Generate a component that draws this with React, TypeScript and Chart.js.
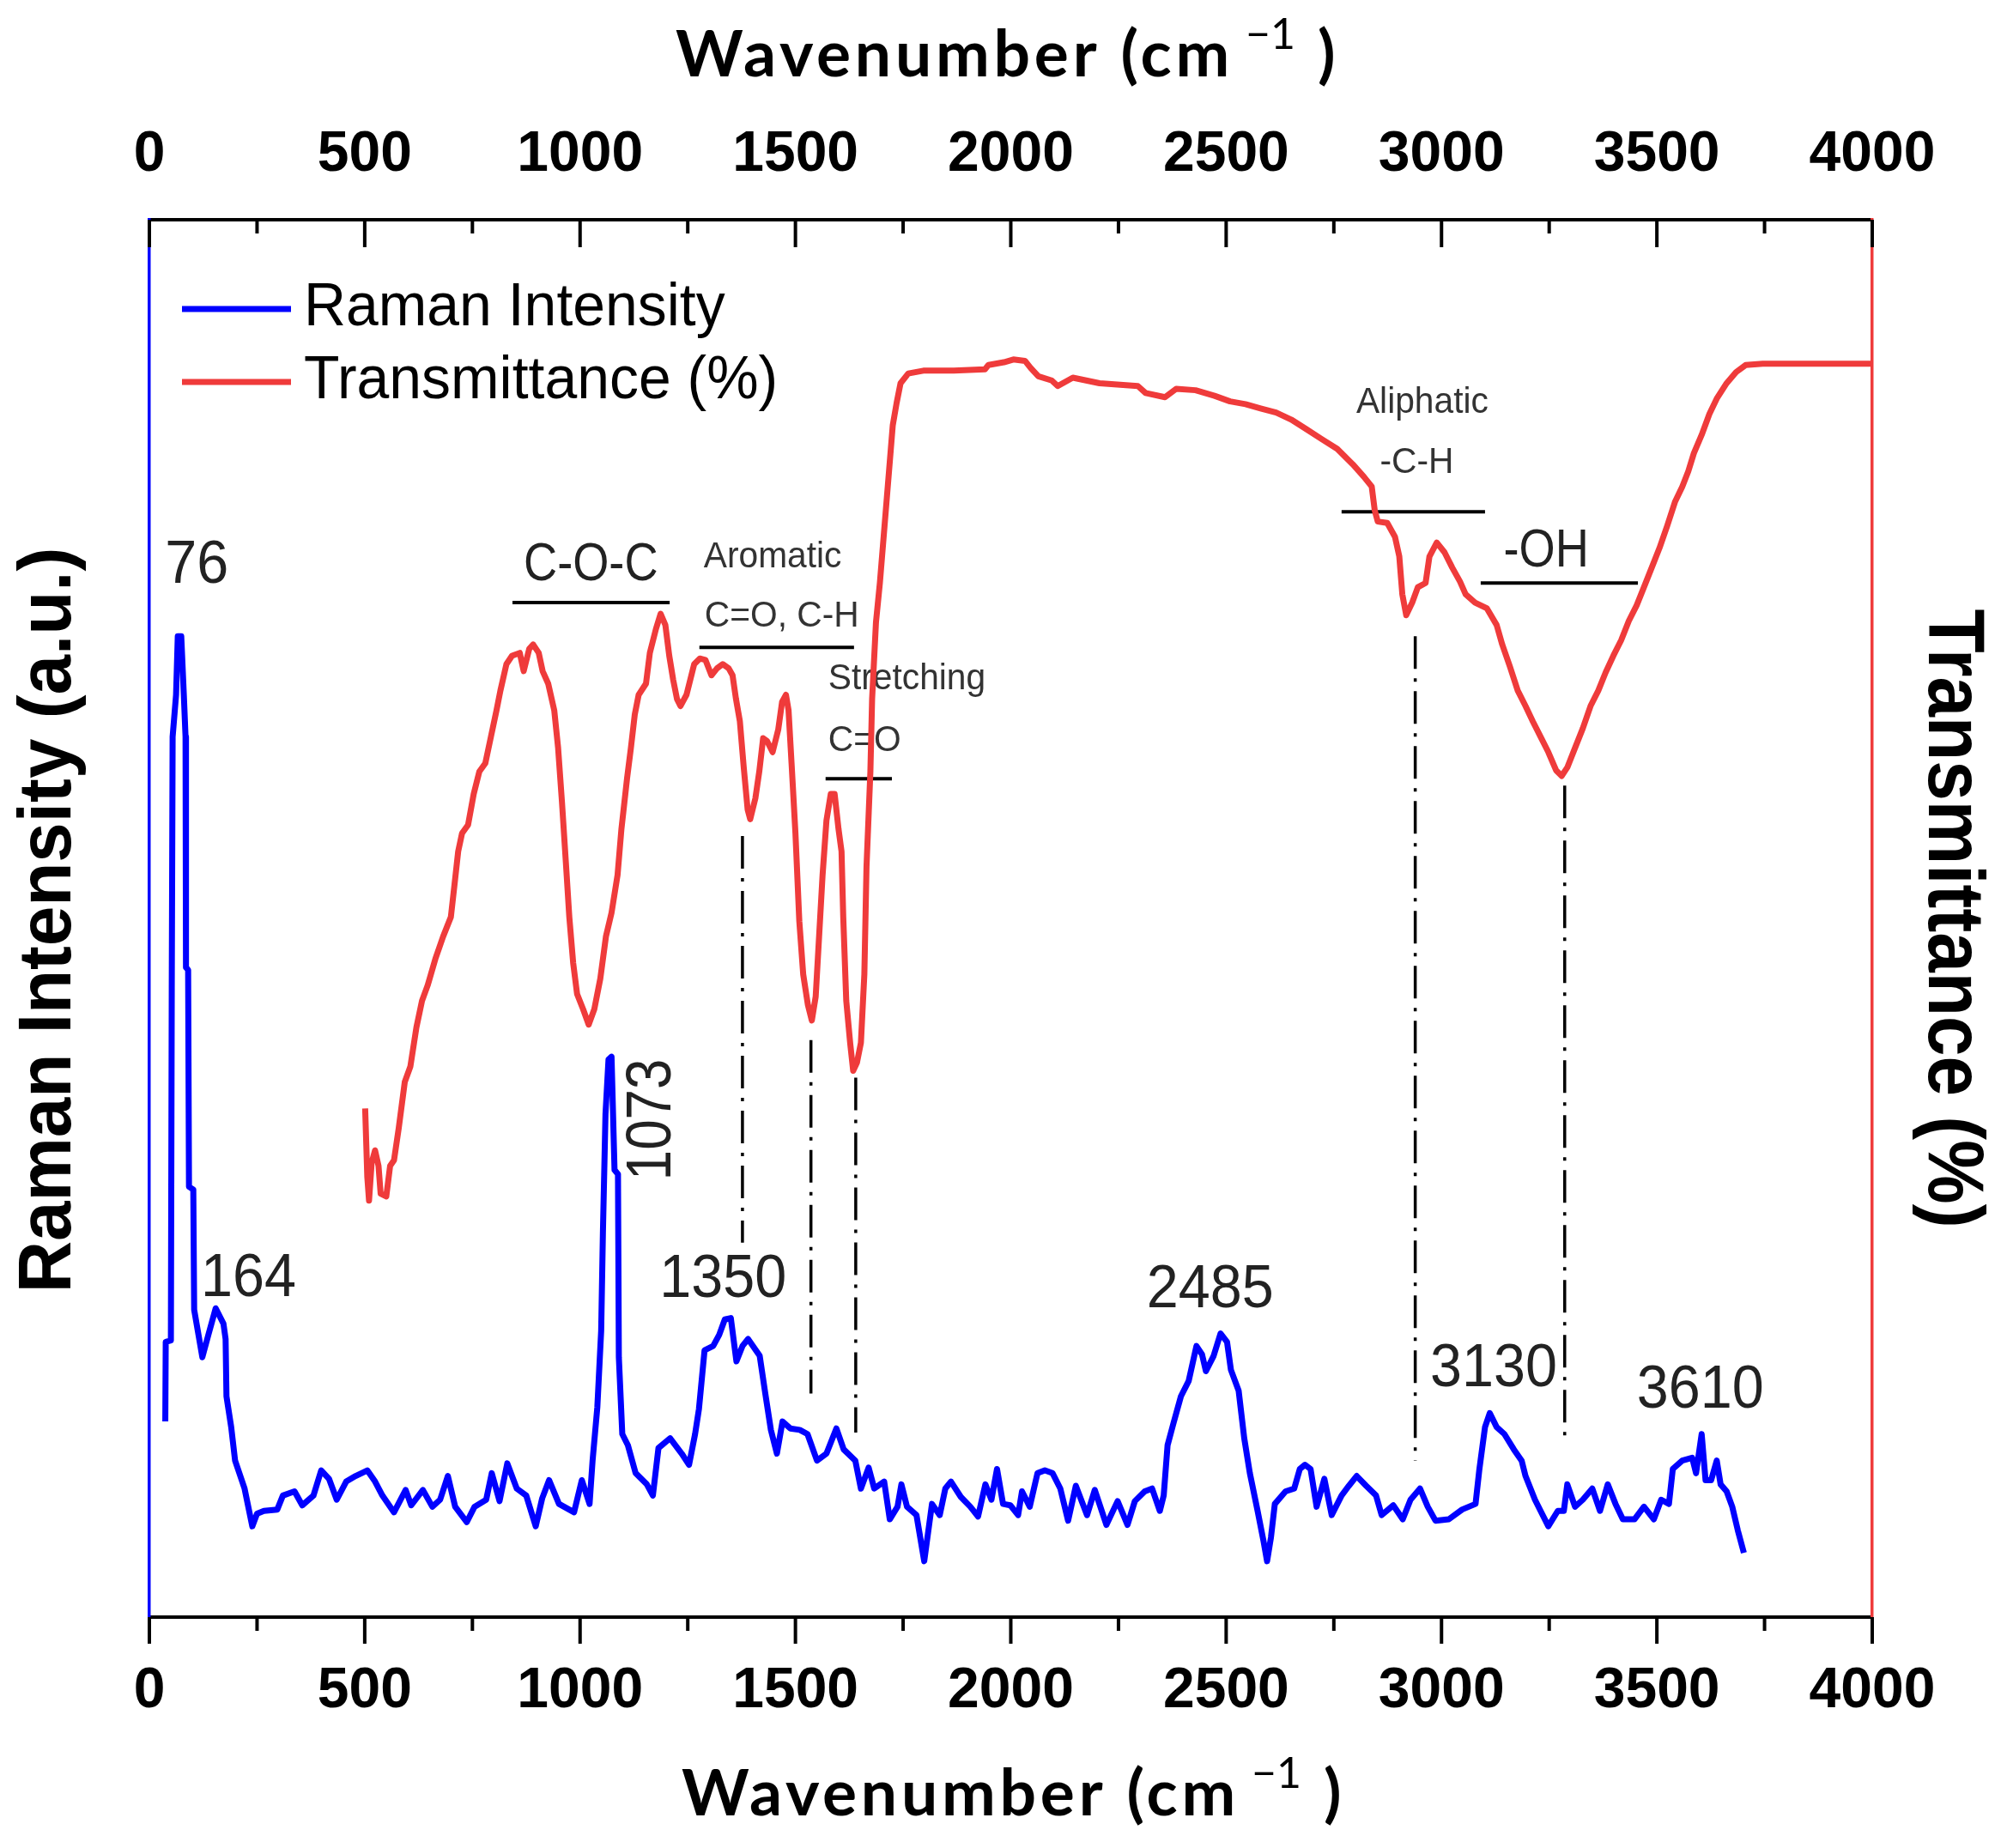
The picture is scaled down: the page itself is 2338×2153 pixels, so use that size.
import { useEffect, useRef } from "react"
import { Chart, registerables } from "chart.js"

Chart.register(...registerables)

// Raman spectrum (blue)
const ramanWavenumber = [
  37, 38, 50, 52, 54, 62, 66, 74, 80, 84, 85, 90, 92, 102, 104,
  123, 137, 154, 172, 177, 179, 190, 199, 221, 239, 250, 266, 297, 310, 337,
  355, 381, 399, 417, 435, 457, 479, 506, 524, 541, 568, 595, 608, 635, 657,
  675, 693, 710, 737, 755, 782, 795, 813, 831, 853, 875, 897, 912, 928, 951,
  986, 1004, 1022, 1029, 1040, 1049, 1053, 1059, 1066, 1073, 1080, 1088, 1090, 1098, 1111,
  1129, 1155, 1169, 1182, 1209, 1236, 1253, 1267, 1276, 1289, 1309, 1323, 1336, 1350, 1363,
  1377, 1390, 1417, 1430, 1443, 1457, 1470, 1488, 1510, 1528, 1550, 1572, 1595, 1612, 1639,
  1652, 1670, 1683, 1706, 1719, 1737, 1746, 1759, 1781, 1799, 1817, 1835, 1848, 1861, 1884,
  1906, 1924, 1941, 1955, 1968, 1982, 1999, 2017, 2026, 2044, 2062, 2079, 2097, 2115, 2133,
  2151, 2177, 2195, 2222, 2248, 2271, 2288, 2311, 2328, 2346, 2355, 2364, 2377, 2395, 2413,
  2431, 2444, 2453, 2471, 2487, 2502, 2511, 2529, 2542, 2555, 2573, 2587, 2595, 2604, 2613,
  2638, 2658, 2671, 2683, 2696, 2710, 2728, 2745, 2768, 2785, 2803, 2825, 2848, 2861, 2888,
  2910, 2928, 2950, 2968, 2986, 3017, 3048, 3079, 3088, 3101, 3112, 3128, 3146, 3168, 3186,
  3195, 3217, 3230, 3248, 3270, 3284, 3292, 3310, 3328, 3350, 3368, 3386, 3404, 3421, 3448,
  3470, 3493, 3510, 3528, 3537, 3559, 3582, 3591, 3604, 3613, 3626, 3639, 3648, 3662, 3675,
  3688, 3702,
]
const ramanIntensity = [
  14.0, 19.7, 19.8, 45.0, 63.0, 66.0, 70.2, 70.2, 66.0, 63.0, 46.5, 46.3, 30.8, 30.6, 22.0,
  18.6, 20.2, 22.1, 21.0, 19.9, 15.8, 13.6, 11.2, 9.2, 6.5, 7.4, 7.6, 7.7, 8.7, 9.0,
  8.0, 8.7, 10.5, 9.9, 8.4, 9.7, 10.1, 10.5, 9.7, 8.7, 7.5, 9.1, 8.0, 9.1, 7.9,
  8.4, 10.1, 7.9, 6.8, 7.9, 8.4, 10.3, 8.3, 11.0, 9.2, 8.7, 6.5, 8.5, 9.8, 8.1,
  7.5, 9.8, 8.1, 11.2, 15.0, 20.5, 27.5, 36.0, 39.9, 40.1, 32.0, 31.7, 18.6, 13.1, 12.3,
  10.3, 9.5, 8.7, 12.1, 12.8, 11.7, 10.9, 13.1, 14.9, 19.1, 19.4, 20.2, 21.3, 21.4, 18.3,
  19.4, 19.9, 18.7, 16.0, 13.4, 11.7, 14.0, 13.5, 13.4, 13.1, 11.2, 11.7, 13.5, 12.0, 11.2,
  9.2, 10.7, 9.2, 9.7, 7.0, 7.9, 9.5, 7.9, 7.3, 4.0, 8.1, 7.3, 9.2, 9.7, 8.6,
  7.9, 7.2, 9.5, 8.4, 10.6, 8.1, 8.0, 7.3, 9.0, 7.9, 10.3, 10.5, 10.3, 9.2, 6.9,
  9.4, 7.3, 9.1, 6.6, 8.3, 6.6, 8.3, 9.0, 9.2, 7.6, 8.7, 12.3, 13.8, 15.8, 16.9,
  19.4, 18.8, 17.6, 18.7, 20.3, 19.7, 17.7, 16.2, 12.8, 10.3, 7.6, 5.4, 4.0, 5.7, 8.1,
  9.0, 9.2, 10.6, 10.9, 10.6, 7.9, 9.9, 7.3, 8.7, 9.4, 10.1, 9.4, 8.7, 7.3, 8.0,
  7.0, 8.4, 9.2, 7.9, 6.9, 7.0, 7.7, 8.1, 10.6, 13.6, 14.6, 13.6, 13.1, 12.0, 11.2,
  10.1, 8.4, 7.6, 6.5, 7.6, 7.6, 9.5, 7.9, 8.4, 9.2, 7.6, 9.5, 8.1, 7.0, 7.0,
  7.9, 7.0, 8.4, 8.1, 10.6, 11.2, 11.4, 10.3, 13.1, 9.8, 9.8, 11.2, 9.5, 9.0, 7.9,
  6.2, 4.6,
]

// FTIR transmittance (red)
const ftirWavenumber = [
  501, 506, 510, 516, 524, 532, 537, 550, 559, 568, 579, 593, 606, 620, 633,
  646, 664, 682, 700, 708, 717, 726, 740, 753, 766, 780, 793, 806, 815, 829,
  842, 860, 869, 882, 891, 904, 913, 926, 940, 949, 958, 967, 975, 984, 993,
  1007, 1020, 1033, 1047, 1060, 1073, 1087, 1096, 1109, 1118, 1127, 1136, 1153, 1162, 1176,
  1187, 1198, 1207, 1216, 1225, 1233, 1247, 1256, 1265, 1278, 1291, 1305, 1318, 1331, 1345,
  1354, 1362, 1371, 1380, 1389, 1395, 1407, 1416, 1425, 1434, 1447, 1460, 1469, 1478, 1484,
  1491, 1500, 1509, 1518, 1529, 1538, 1547, 1554, 1563, 1572, 1582, 1591, 1600, 1607, 1611,
  1618, 1627, 1634, 1643, 1652, 1660, 1665, 1674, 1678, 1687, 1696, 1726, 1735, 1744, 1762,
  1797, 1868, 1940, 1948, 1984, 2006, 2033, 2046, 2064, 2095, 2109, 2144, 2206, 2295, 2313,
  2358, 2384, 2429, 2473, 2509, 2545, 2580, 2616, 2651, 2687, 2722, 2758, 2794, 2820, 2838,
  2845, 2852, 2874, 2892, 2902, 2909, 2918, 2932, 2945, 2963, 2972, 2989, 3007, 3025, 3043,
  3056, 3078, 3105, 3128, 3141, 3159, 3177, 3195, 3212, 3230, 3248, 3266, 3279, 3292, 3310,
  3328, 3346, 3364, 3381, 3399, 3417, 3435, 3453, 3470, 3488, 3506, 3524, 3542, 3559, 3573,
  3586, 3604, 3622, 3639, 3662, 3684, 3706, 3746, 3888, 4000,
]
const ftirTransmittance = [
  36.4, 31.5, 29.8, 32.5, 33.4, 32.3, 30.3, 30.1, 32.3, 32.7, 35.0, 38.3, 39.4, 42.2, 44.1,
  45.2, 47.1, 48.7, 50.1, 52.3, 54.8, 56.1, 56.7, 58.9, 60.5, 61.1, 63.0, 64.9, 66.3, 68.2,
  68.8, 69.0, 67.7, 69.3, 69.6, 69.0, 67.7, 66.8, 64.9, 62.2, 58.3, 54.0, 50.1, 46.8, 44.6,
  43.5, 42.4, 43.5, 45.7, 48.7, 50.4, 53.1, 56.4, 60.0, 62.2, 64.6, 66.0, 66.8, 69.0, 70.7,
  71.8, 71.0, 68.8, 67.1, 65.7, 65.2, 66.0, 67.1, 68.2, 68.6, 68.5, 67.4, 67.9, 68.2, 67.9,
  67.4, 65.7, 64.1, 60.8, 57.8, 57.1, 58.6, 60.5, 62.9, 62.7, 61.9, 63.5, 65.5, 66.0, 64.9,
  61.1, 56.1, 49.8, 46.0, 43.8, 42.7, 44.4, 48.2, 53.1, 57.0, 58.9, 58.9, 56.4, 54.8, 50.1,
  44.1, 41.1, 39.1, 39.7, 41.1, 46.0, 53.7, 60.5, 65.7, 71.2, 74.0, 85.3, 86.9, 88.3, 89.0,
  89.2, 89.2, 89.3, 89.6, 89.8, 90.0, 89.9, 89.4, 88.8, 88.5, 88.1, 88.7, 88.3, 88.1, 87.6,
  87.3, 87.9, 87.8, 87.4, 87.0, 86.8, 86.5, 86.2, 85.7, 85.0, 84.3, 83.6, 82.5, 81.6, 80.9,
  79.2, 78.4, 78.3, 77.3, 75.9, 73.2, 71.7, 72.6, 73.7, 74.0, 75.9, 76.9, 76.2, 75.1, 74.1,
  73.2, 72.6, 72.2, 71.0, 69.6, 68.0, 66.3, 65.2, 64.1, 63.0, 61.9, 60.6, 60.2, 60.8, 62.2,
  63.6, 65.2, 66.3, 67.6, 68.8, 69.9, 71.3, 72.4, 73.7, 75.1, 76.5, 78.1, 79.8, 80.9, 82.0,
  83.3, 84.6, 86.1, 87.2, 88.3, 89.1, 89.6, 89.7, 89.7, 89.7,
]

const xTickLabels = ["0", "500", "1000", "1500", "2000", "2500", "3000", "3500", "4000"]

// Raman peak labels (x = centre, y = baseline)
const peakLabels = ["76", "164", "1350", "2485", "3130", "3610"]
const peakLabelX = [110, 230, 1332, 2463, 3121, 3601]
const peakLabelY = [74.0, 23.0, 22.9, 22.2, 16.5, 15.0]
const sidePeakLabels = ["1073"]
const sidePeakX = [1209]
const sidePeakY = [35.6]

// FTIR band labels (x = left edge, y = baseline)
const groupLabels = ["C-O-C", "-OH"]
const groupLabelX = [869, 3144]
const groupLabelY = [74.2, 75.2]
const bandLabels = ["Aromatic", "C=O, C-H", "Stretching", "C=O", "Aliphatic", "-C-H"]
const bandLabelX = [1287, 1289, 1576, 1576, 2802, 2857]
const bandLabelY = [75.1, 70.9, 66.4, 62.0, 86.2, 81.9]

const bandLineStart = [843, 1277, 1570, 2768, 3091]
const bandLineEnd = [1208, 1636, 1724, 3101, 3456]
const bandLineY = [72.6, 69.4, 60.0, 79.1, 74.0]

// dash-dot guides from FTIR dips down to the Raman trace
const markerX = [1377, 1536, 1640, 2939, 3286]
const markerTop = [55.9, 41.3, 38.6, 70.2, 59.5]
const markerBottom = [26.8, 16.0, 13.2, 11.2, 12.5]

const ARIAL = "'Liberation Sans', Arial, sans-serif"
const LATO = "Lato, 'Open Sans', sans-serif"

function drawText(ctx: CanvasRenderingContext2D, str: string, x: number, y: number, font: string, color: string, align: CanvasTextAlign = "left", rotate = 0, squeeze = 1) {
  ctx.save()
  ctx.translate(x, y)
  if (rotate) ctx.rotate(rotate)
  if (squeeze !== 1) ctx.scale(squeeze, 1)
  ctx.font = font
  ctx.fillStyle = color
  ctx.textAlign = align
  ctx.textBaseline = "alphabetic"
  ctx.fillText(str, 0, 0)
  ctx.restore()
}

function drawWavenumberTitle(ctx: any, left: number, baseline: number) {
  ctx.save()
  ctx.fillStyle = "#000"
  ctx.textAlign = "left"
  ctx.textBaseline = "alphabetic"
  const main = "Wavenumber (cm"
  ctx.font = `bold 75px ${LATO}`
  const natural = ctx.measureText(main).width
  ctx.letterSpacing = `${(650 - natural) / main.length}px`
  ctx.fillText(main, left, baseline)
  ctx.letterSpacing = "0px"
  ctx.font = `50px ${LATO}`
  ctx.fillText("\u22121", left + 664, baseline - 32)
  ctx.font = `bold 75px ${LATO}`
  ctx.fillText(")", left + 748, baseline)
  ctx.restore()
}

const decorPlugin = {
  id: "spectraDecor",
  beforeDatasetsDraw(chart: any) {
    const { ctx, scales } = chart
    const x = scales.x
    const y = scales.y
    const y2 = scales.y2

    ctx.save()
    ctx.strokeStyle = "#000"
    ctx.lineWidth = 3.5
    ctx.setLineDash([38, 11, 4, 11])
    markerX.forEach((m, i) => {
      const px = x.getPixelForValue(m)
      ctx.beginPath()
      ctx.moveTo(px, y2.getPixelForValue(markerTop[i]))
      ctx.lineTo(px, y.getPixelForValue(markerBottom[i]))
      ctx.stroke()
    })
    ctx.setLineDash([])
    ctx.lineWidth = 4
    bandLineStart.forEach((s, i) => {
      const py = y2.getPixelForValue(bandLineY[i])
      ctx.beginPath()
      ctx.moveTo(x.getPixelForValue(s), py)
      ctx.lineTo(x.getPixelForValue(bandLineEnd[i]), py)
      ctx.stroke()
    })
    ctx.restore()

    peakLabels.forEach((t, i) => {
      drawText(ctx, t, x.getPixelForValue(peakLabelX[i]), y.getPixelForValue(peakLabelY[i]), `70px ${ARIAL}`, "#222", "center", 0, 0.95)
    })
    sidePeakLabels.forEach((t, i) => {
      drawText(ctx, t, x.getPixelForValue(sidePeakX[i]), y.getPixelForValue(sidePeakY[i]), `74px ${ARIAL}`, "#222", "center", -Math.PI / 2, 0.86)
    })
    groupLabels.forEach((t, i) => {
      drawText(ctx, t, x.getPixelForValue(groupLabelX[i]), y2.getPixelForValue(groupLabelY[i]), `63px ${ARIAL}`, "#222", "left", 0, 0.86)
    })
    bandLabels.forEach((t, i) => {
      drawText(ctx, t, x.getPixelForValue(bandLabelX[i]), y2.getPixelForValue(bandLabelY[i]), `42px ${ARIAL}`, "#333", "left", 0, 0.97)
    })
  },
  afterDraw(chart: any) {
    const { ctx, chartArea, scales } = chart
    const x = scales.x
    const { left, right, top, bottom } = chartArea

    // tick marks: top axis inward, bottom axis outward
    ctx.save()
    ctx.strokeStyle = "#000"
    ctx.lineWidth = 4
    x.ticks.forEach((t: any) => {
      const px = x.getPixelForValue(t.value)
      const major = t.value % 500 === 0
      ctx.beginPath()
      ctx.moveTo(px, top)
      ctx.lineTo(px, top + (major ? 32 : 16))
      ctx.moveTo(px, bottom)
      ctx.lineTo(px, bottom + (major ? 31 : 16))
      ctx.stroke()
    })
    ctx.restore()

    xTickLabels.forEach((lab) => {
      const px = x.getPixelForValue(Number(lab))
      drawText(ctx, lab, px, top - 57, `bold 66px ${ARIAL}`, "#000", "center")
      drawText(ctx, lab, px, bottom + 105, `bold 66px ${ARIAL}`, "#000", "center")
    })

    drawWavenumberTitle(ctx, left + 613, top - 167)
    drawWavenumberTitle(ctx, left + 620, bottom + 231)

    drawText(ctx, "Raman Intensity (a.u.)", left - 92, (top + bottom) / 2 + 2, `bold 88px ${ARIAL}`, "#000", "center", -Math.PI / 2, 0.95)
    drawText(ctx, "Transmittance (%)", right + 66, (top + bottom) / 2, `bold 92px ${ARIAL}`, "#000", "center", Math.PI / 2, 0.91)

    // legend
    chart.data.datasets.forEach((ds: any, i: number) => {
      const ly = top + 104 + i * 85
      ctx.save()
      ctx.strokeStyle = ds.borderColor
      ctx.lineWidth = 7
      ctx.beginPath()
      ctx.moveTo(left + 38, ly)
      ctx.lineTo(left + 165, ly)
      ctx.stroke()
      ctx.restore()
      drawText(ctx, ds.label, left + 180, ly + 19, `70px ${ARIAL}`, "#000", "left", 0, 0.97)
    })
  },
}

export default function App() {
  const chartRef = useRef<HTMLCanvasElement>(null)
  const chartInstance = useRef<Chart | null>(null)

  useEffect(() => {
    if (!chartRef.current) return
    if (chartInstance.current) chartInstance.current.destroy()

    const hiddenY = (width: number, color: string, position: string) => ({
      type: "linear",
      position,
      min: 0,
      max: 100,
      ticks: { display: false },
      grid: { display: false },
      border: { display: true, color, width: 3.5 },
      afterFit: (s: any) => {
        s.width = width
      },
    })

    chartInstance.current = new Chart(chartRef.current, {
      type: "line",
      data: {
        datasets: [
          {
            label: "Raman Intensity",
            data: ramanWavenumber.map((w, i) => ({ x: w, y: ramanIntensity[i] })),
            borderColor: "#0000ff",
            borderWidth: 7,
            xAxisID: "x",
            yAxisID: "y",
          },
          {
            label: "Transmittance (%)",
            data: ftirWavenumber.map((w, i) => ({ x: w, y: ftirTransmittance[i] })),
            borderColor: "#ef3b3b",
            borderWidth: 7,
            xAxisID: "x",
            yAxisID: "y2",
          },
        ],
      },
      options: {
        animation: false,
        responsive: true,
        maintainAspectRatio: false,
        layout: { padding: 0 },
        elements: {
          point: { radius: 0 },
          line: { tension: 0, borderJoinStyle: "round", borderCapStyle: "butt" },
        },
        plugins: {
          legend: { display: false },
          tooltip: { enabled: false },
          title: { display: false },
        },
        scales: {
          x: {
            type: "linear",
            position: "bottom",
            min: 0,
            max: 4000,
            ticks: { display: false, stepSize: 250 },
            grid: { display: false },
            border: { display: true, color: "#000", width: 4 },
            afterFit: (s: any) => {
              s.height = 269
            },
          },
          x2: {
            type: "linear",
            position: "top",
            min: 0,
            max: 4000,
            ticks: { display: false, stepSize: 250 },
            grid: { display: false },
            border: { display: true, color: "#000", width: 4 },
            afterFit: (s: any) => {
              s.height = 256
            },
          },
          y: hiddenY(174, "#0000ff", "left"),
          y2: hiddenY(157, "#ef3b3b", "right"),
        } as any,
      },
      plugins: [decorPlugin],
    } as any)

    return () => {
      if (chartInstance.current) {
        chartInstance.current.destroy()
        chartInstance.current = null
      }
    }
  }, [])

  return (
    <div style={{ position: "fixed", left: 0, top: 0, width: 2338, height: 2153, background: "#fff" }}>
      <canvas ref={chartRef} />
    </div>
  )
}
